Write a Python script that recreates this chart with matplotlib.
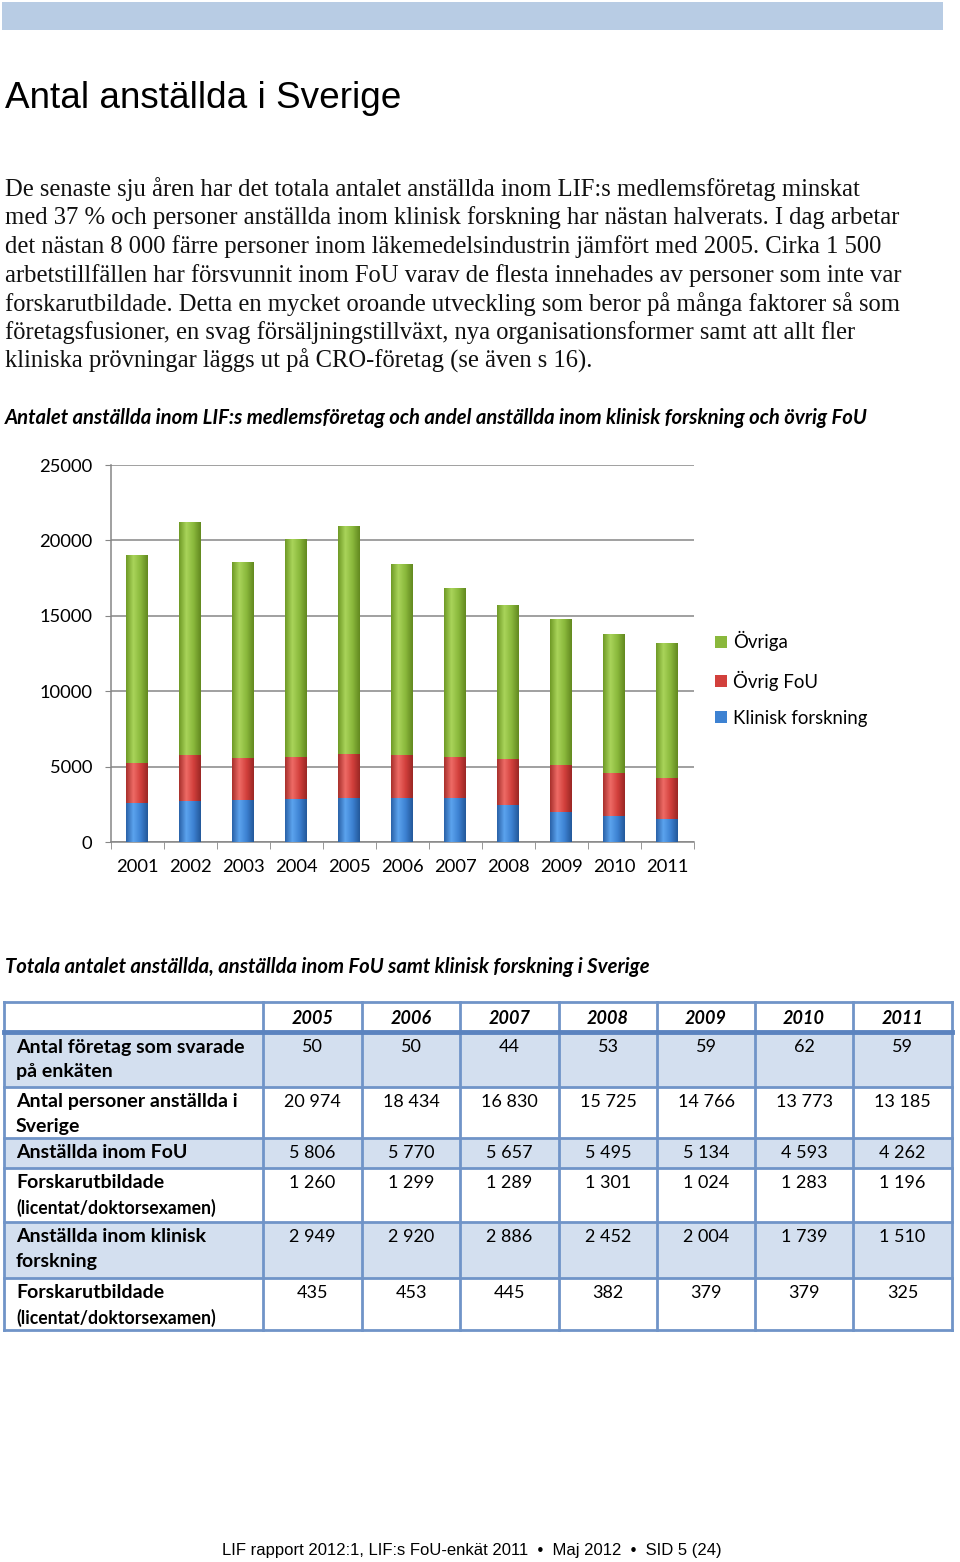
import numpy as np
import matplotlib.pyplot as plt
from matplotlib.colors import LinearSegmentedColormap
from matplotlib.patches import Rectangle

# chart data (antal anställda)
years = ['2001', '2002', '2003', '2004', '2005', '2006', '2007', '2008', '2009', '2010', '2011']
klinisk = [2570, 2700, 2790, 2830, 2949, 2920, 2886, 2452, 2004, 1739, 1510]
ovrig_fou = [2680, 3080, 2780, 2830, 2857, 2850, 2771, 3043, 3130, 2854, 2752]
ovriga = [13800, 15470, 12980, 14440, 15168, 12664, 11173, 10230, 9632, 9180, 8923]
series_names = ['Klinisk forskning', 'Övrig FoU', 'Övriga']

# table data
tab_years = ['2005', '2006', '2007', '2008', '2009', '2010', '2011']
tab_labels = [('Antal företag som svarade', 'på enkäten'),
              ('Antal personer anställda i', 'Sverige'),
              ('Anställda inom FoU', ''),
              ('Forskarutbildade', '(licentat/doktorsexamen)'),
              ('Anställda inom klinisk', 'forskning'),
              ('Forskarutbildade', '(licentat/doktorsexamen)')]
tab_values = [['50', '50', '44', '53', '59', '62', '59'],
              ['20 974', '18 434', '16 830', '15 725', '14 766', '13 773', '13 185'],
              ['5 806', '5 770', '5 657', '5 495', '5 134', '4 593', '4 262'],
              ['1 260', '1 299', '1 289', '1 301', '1 024', '1 283', '1 196'],
              ['2 949', '2 920', '2 886', '2 452', '2 004', '1 739', '1 510'],
              ['435', '453', '445', '382', '379', '379', '325']]

body_lines = [
    'De senaste sju åren har det totala antalet anställda inom LIF:s medlemsföretag minskat',
    'med 37 % och personer anställda inom klinisk forskning har nästan halverats. I dag arbetar',
    'det nästan 8 000 färre personer inom läkemedelsindustrin jämfört med 2005. Cirka 1 500',
    'arbetstillfällen har försvunnit inom FoU varav de flesta innehades av personer som inte var',
    'forskarutbildade. Detta en mycket oroande utveckling som beror på många faktorer så som',
    'företagsfusioner, en svag försäljningstillväxt, nya organisationsformer samt att allt fler',
    'kliniska prövningar läggs ut på CRO-företag (se även s 16).',
]

W, H = 960, 1562
fig = plt.figure(figsize=(W / 100, H / 100), dpi=100)
fig.patch.set_facecolor('white')

# page overlay in pixel coordinates
page = fig.add_axes([0, 0, 1, 1])
page.set_xlim(0, W)
page.set_ylim(H, 0)
page.axis('off')

page.add_patch(Rectangle((2, 2), 941, 28, color='#b8cce4', lw=0))
page.text(5, 99, 'Antal anställda i Sverige', family='Liberation Sans', fontsize=26.6,
          va='center', ha='left')

for i, line in enumerate(body_lines):
    page.text(5, 189 + i * 28.7, line, family='Liberation Serif', fontsize=17.7,
              va='center', ha='left', color='#111111')

cal = 'Lato'
page.text(5, 418, 'Antalet anställda inom LIF:s medlemsföretag och andel anställda inom klinisk forskning och övrig FoU',
          family=cal, fontsize=14.6, weight='bold', style='italic', va='center')
page.text(5, 967, 'Totala antalet anställda, anställda inom FoU samt klinisk forskning i Sverige',
          family=cal, fontsize=14.6, weight='bold', style='italic', va='center')

page.text(222, 1551, 'LIF rapport 2012:1, LIF:s FoU-enkät 2011  \u2022  Maj 2012  \u2022  SID 5 (24)',
          family='Liberation Sans', fontsize=12, va='center', ha='left')

# ---- chart ----
ax = fig.add_axes([110.5 / W, 1 - 842 / H, 583 / W, 377 / H])
x = np.arange(len(years))
gray = '#868686'

cmaps = [
    LinearSegmentedColormap.from_list('b', ['#2a62a8', '#5ba3ee', '#3d82d2', '#23589a']),
    LinearSegmentedColormap.from_list('r', ['#a8302c', '#ee6b66', '#d2403c', '#9a2724']),
    LinearSegmentedColormap.from_list('g', ['#6f9a26', '#a9d45a', '#8ab83c', '#62891f']),
]
flat = ['#3d82d2', '#d2403c', '#8ab83c']
grad = np.linspace(0, 1, 64).reshape(1, -1)

bottom = np.zeros(len(years))
handles = []
for vals, name, cm, fc in zip([klinisk, ovrig_fou, ovriga], series_names, cmaps, flat):
    bars = ax.bar(x, vals, width=0.4, bottom=bottom, color=fc, label=name, zorder=3,
                  edgecolor='none')
    for b in bars:
        x0, y0 = b.get_x(), b.get_y()
        im = ax.imshow(grad, cmap=cm, extent=[x0, x0 + b.get_width(), y0, y0 + b.get_height()],
                       aspect='auto', zorder=3, interpolation='bilinear')
        im.set_clip_path(b)
    handles.append(bars)
    bottom = bottom + np.array(vals)

ax.set_xlim(-0.5, len(years) - 0.5)
ax.set_ylim(0, 25000)
ax.set_yticks(np.arange(0, 25001, 5000))
ax.set_xticks(x)
ax.set_xticklabels(years)
ax.set_xticks(np.arange(-0.5, len(years), 1), minor=True)
ax.grid(axis='y', color=gray, lw=1.1, zorder=0)
for s in ['top', 'right']:
    ax.spines[s].set_visible(False)
for s in ['left', 'bottom']:
    ax.spines[s].set_color(gray)
    ax.spines[s].set_linewidth(1.1)
ax.tick_params(axis='y', length=4, color=gray, pad=9, labelsize=13.2)
ax.tick_params(axis='x', which='major', length=0, pad=12, labelsize=13.2)
ax.tick_params(axis='x', which='minor', length=5, color=gray)
for lab in ax.get_xticklabels() + ax.get_yticklabels():
    lab.set_family(cal)

leg = ax.legend(handles[::-1], series_names[::-1], loc='center left',
                bbox_to_anchor=(698 / W, 1 - 679 / H), bbox_transform=fig.transFigure,
                frameon=False, handlelength=0.65, handleheight=0.65, handletextpad=0.35,
                labelspacing=1.03, prop={'family': cal, 'size': 13.4})

# ---- table ----
col_edges = [4, 263, 362, 460, 559, 657, 755, 853, 952]
row_edges = [1002, 1032, 1087, 1138, 1168, 1222, 1278, 1330]
border = '#7094c8'
shade = '#d3dfef'

for r in range(len(tab_labels)):
    if r % 2 == 0:
        page.add_patch(Rectangle((col_edges[0], row_edges[r + 1]), col_edges[-1] - col_edges[0],
                                 row_edges[r + 2] - row_edges[r + 1], color=shade, lw=0))
for xe in col_edges:
    page.plot([xe, xe], [row_edges[0], row_edges[-1]], color=border, lw=2)
for ye in row_edges:
    page.plot([col_edges[0], col_edges[-1]], [ye, ye], color=border, lw=2)
page.plot([col_edges[0], col_edges[-1]], [row_edges[1], row_edges[1]], color='#5b83bf', lw=3.5)

for c, yr in enumerate(tab_years):
    cx = (col_edges[c + 1] + col_edges[c + 2]) / 2
    page.text(cx, (row_edges[0] + row_edges[1]) / 2 + 1, yr, family=cal, weight='bold',
              style='italic', fontsize=13, ha='center', va='center')

for r, (l1, l2) in enumerate(tab_labels):
    ytop = row_edges[r + 1] + 15
    page.text(16, ytop, l1, family=cal, weight='bold', fontsize=14, va='center')
    if l2:
        small = l2.startswith('(')
        page.text(16, ytop + 24.5, l2, family=cal, weight='bold',
                  fontsize=12.7 if small else 14, va='center')
    for c, v in enumerate(tab_values[r]):
        cx = (col_edges[c + 1] + col_edges[c + 2]) / 2
        page.text(cx, ytop, v, family=cal, fontsize=13, ha='center', va='center')

fig.savefig('out.png', dpi=100)
